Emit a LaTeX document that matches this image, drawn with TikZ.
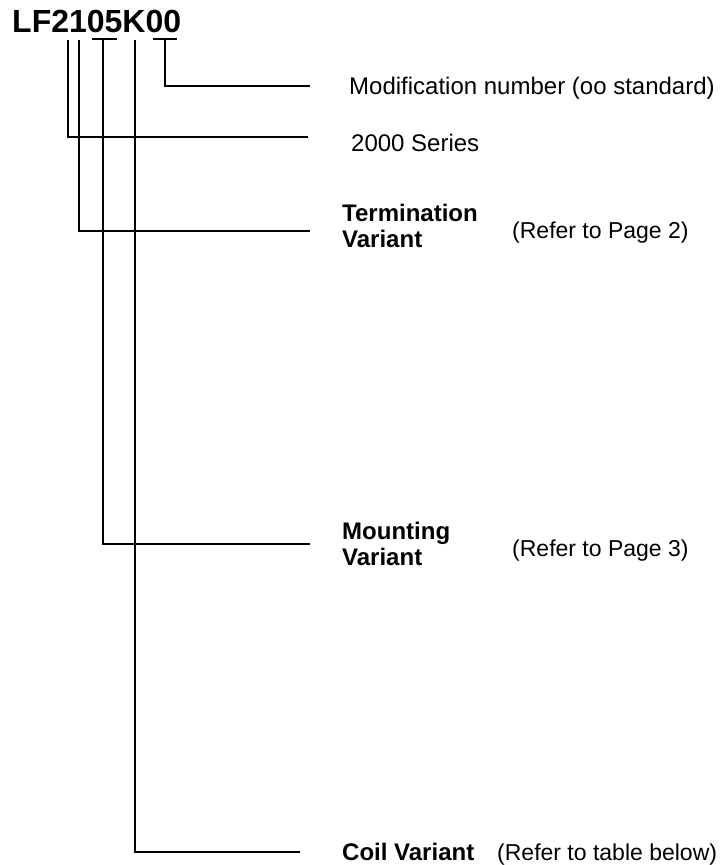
\documentclass[tikz,border=0pt]{standalone}
\usepackage{fontspec}
\setmainfont{Liberation Sans}
\begin{document}
\begin{tikzpicture}[x=1pt,y=-1pt,
  lbl/.style={anchor=base west,inner sep=0pt,font=\fontsize{24}{24}\selectfont},
  rlbl/.style={anchor=base west,inner sep=0pt,font=\fontsize{23}{24}\selectfont},
  blbl/.style={anchor=base west,inner sep=0pt,font=\fontsize{24}{26}\selectfont\bfseries,align=left},
  wire/.style={line width=2pt}]
\useasboundingbox (0,0) rectangle (726,865);
\node[anchor=base west,inner sep=0pt,font=\fontsize{32}{34}\selectfont\bfseries] (code) at (12,32) {LF2105K00};
% labels
\node[lbl] (mod) at (349,94) {Modification number (oo standard)};
\node[lbl] (ser) at (351,151) {2000 Series};
\node[blbl] (term) at (342,247) {Termination\\Variant};
\node[rlbl] (ref2) at (512,238) {(Refer to Page 2)};
\node[blbl] (mount) at (342,565) {Mounting\\Variant};
\node[rlbl] (ref3) at (512,556) {(Refer to Page 3)};
\node[blbl] (coil) at (342,860) {Coil Variant};
\node[rlbl] (ref4) at (497,860) {(Refer to table below)};
% tap coordinates
\coordinate (t1) at (68,40);
\coordinate (t2) at (79,40);
\coordinate (t3) at (103,40);
\coordinate (t4) at (135,40);
\coordinate (t5) at (165,40);
\coordinate (e1) at (308,137);
\coordinate (e2) at (310,231);
\coordinate (e3) at (310,544);
\coordinate (e4) at (300,852);
\coordinate (e5) at (310,86);
% bars
\draw[wire] (92,39) -- (117,39);
\draw[wire] (153,39) -- (177,39);
% connectors
\draw[wire] (t5) |- (e5);
\draw[wire] (t1) |- (e1);
\draw[wire] (t2) |- (e2);
\draw[wire] (t3) |- (e3);
\draw[wire] (t4) |- (e4);
\end{tikzpicture}
\end{document}
